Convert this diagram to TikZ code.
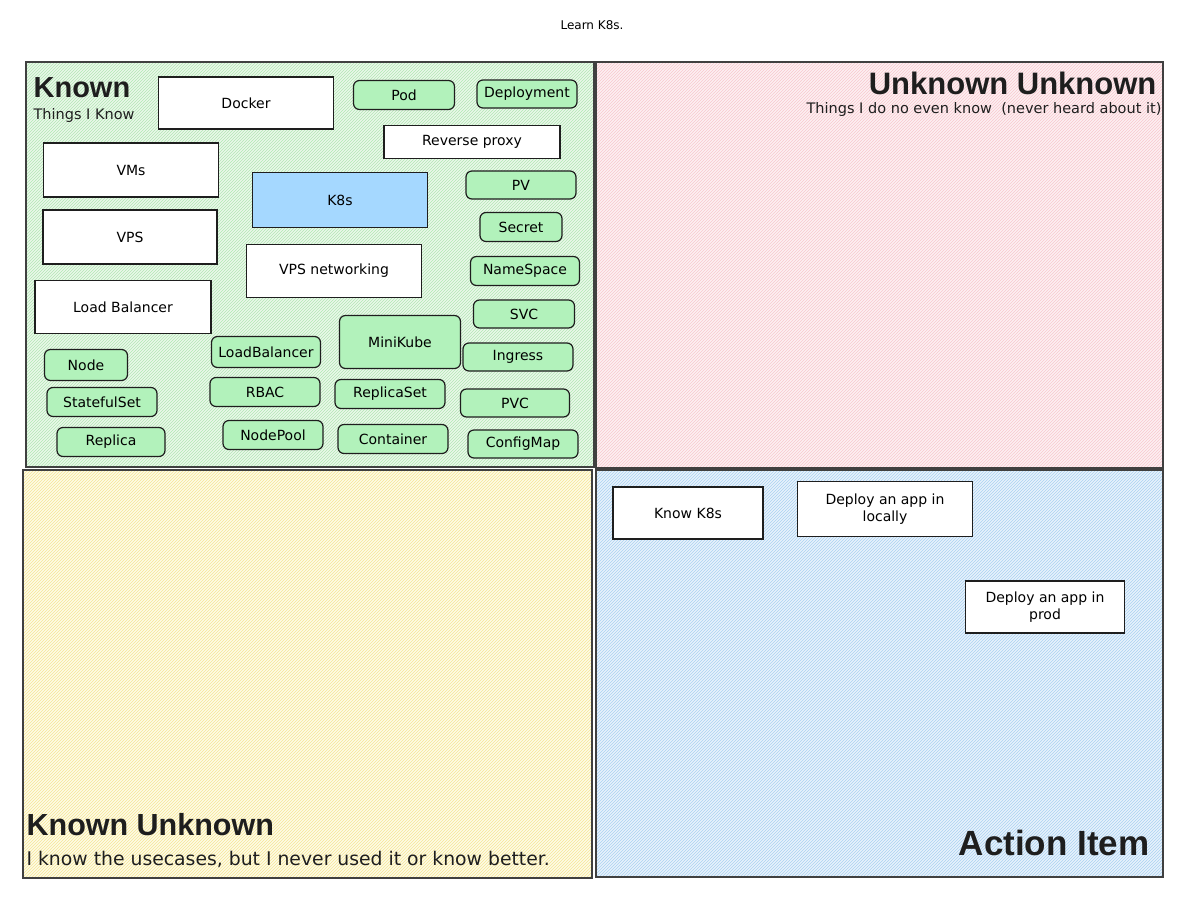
\documentclass[tikz,border=0pt]{standalone}
\usepackage{fontspec}
\setmainfont{DejaVu Sans}
\newfontfamily\headfont{Liberation Sans}
\usepackage{tikz}
\usetikzlibrary{patterns}

\definecolor{knownbg}{RGB}{234,248,234}
\definecolor{knownln}{RGB}{178,230,180}
\definecolor{unkbg}{RGB}{253,240,242}
\definecolor{unkln}{RGB}{248,200,206}
\definecolor{kunbg}{RGB}{254,251,230}
\definecolor{kunln}{RGB}{245,230,150}
\definecolor{actbg}{RGB}{232,242,252}
\definecolor{actln}{RGB}{170,210,240}
\definecolor{tagfill}{RGB}{178,242,187}
\definecolor{kfill}{RGB}{165,216,255}
\definecolor{ink}{RGB}{30,30,30}

\begin{document}
\begin{tikzpicture}[
            x=1pt, y=-1pt, line width=1.2pt,
        quad/.style={fill=#1bg, postaction={pattern=north east lines, pattern color=#1ln},
                     postaction={draw=ink!85, line width=1.1pt}},
        white node/.style={rectangle,draw=ink,fill=white,inner sep=0pt,align=center,
                           font=\fontsize{14}{17}\selectfont},
        green node/.style={rectangle,rounded corners=6pt,draw=ink,fill=tagfill,inner sep=0pt,
                           font=\fontsize{14}{17}\selectfont},
        title/.style={font=\headfont\fontsize{29}{33}\selectfont\bfseries, text=ink, inner sep=0pt},
        subtitle/.style={font=\fontsize{14.5}{17}\selectfont, text=ink, inner sep=0pt}
                                ]
    \useasboundingbox (0,0) rectangle (1192,897);

    % quadrants
    \path[quad=known] (26,62) rectangle (594,467);
    \path[quad=unk]   (596,62) rectangle (1163,468);
    \path[quad=kun]   (23,470) rectangle (592,878);
    \path[quad=act]   (596,470) rectangle (1163,877);

    \node[font=\fontsize{12}{14}\selectfont] (head) at (592,25) {Learn K8s.};

    % labels
    \node[title, anchor=west] (known) at (33,88) {Known};
    \node[subtitle, anchor=west] (knownsub) at (33,115) {Things I Know};
    \node[title, anchor=east, font=\headfont\fontsize{31}{35}\selectfont\bfseries] (unkunk) at (1157,83) {Unknown Unknown};
    \node[subtitle, anchor=east] (unkunksub) at (1162,109) {Things I do no even know\ \ (never heard about it)};
    \node[title, anchor=west, font=\headfont\fontsize{30.5}{35}\selectfont\bfseries] (knownunk) at (26,825) {Known Unknown};
    \node[subtitle, anchor=west, font=\fontsize{18.8}{22}\selectfont] (knownunksub) at (26,859) {I know the usecases, but I never used it or know better.};
    \node[title, anchor=east, font=\headfont\fontsize{35}{40}\selectfont\bfseries] (action) at (1150,843) {Action Item};

    % known: white boxes
    \node[white node, minimum width=175, minimum height=52] (docker) at (246,103) {Docker};
    \node[white node, minimum width=175, minimum height=54] (vms) at (131,170) {VMs};
    \node[white node, minimum width=174, minimum height=54] (vps) at (130,237) {VPS};
    \node[white node, minimum width=176, minimum height=53] (lb) at (123,307) {Load Balancer};
    \node[white node, fill=kfill, minimum width=175, minimum height=55] (k8s) at (340,200) {K8s};
    \node[white node, minimum width=175, minimum height=53] (vpsnet) at (334,271) {VPS networking};
    \node[white node, minimum width=176, minimum height=33] (proxy) at (472,142) {Reverse proxy};

    % known: green tags
    \node[green node, minimum width=101, minimum height=29] (pod) at (404,95) {Pod};
    \node[green node, minimum width=100, minimum height=28] (deploy) at (527,94) {Deployment};
    \node[green node, minimum width=110, minimum height=28] (pv) at (521,185) {PV};
    \node[green node, minimum width=82, minimum height=29] (secret) at (521,227) {Secret};
    \node[green node, minimum width=109, minimum height=29] (ns) at (525,271) {NameSpace};
    \node[green node, minimum width=101, minimum height=28] (svc) at (524,314) {SVC};
    \node[green node, minimum width=110, minimum height=28] (ingress) at (518,357) {Ingress};
    \node[green node, minimum width=109, minimum height=28] (pvc) at (515,403) {PVC};
    \node[green node, minimum width=110, minimum height=28] (cm) at (523,444) {ConfigMap};
    \node[green node, minimum width=121, minimum height=53] (minikube) at (400,342) {MiniKube};
    \node[green node, minimum width=109, minimum height=31] (lbk) at (266,352) {LoadBalancer};
    \node[green node, minimum width=110, minimum height=29] (rbac) at (265,392) {RBAC};
    \node[green node, minimum width=110, minimum height=29] (rs) at (390,394) {ReplicaSet};
    \node[green node, minimum width=100, minimum height=29] (np) at (273,435) {NodePool};
    \node[green node, minimum width=110, minimum height=29] (ctr) at (393,439) {Container};
    \node[green node, minimum width=83, minimum height=31] (node) at (86,365) {Node};
    \node[green node, minimum width=110, minimum height=29] (sts) at (102,402) {StatefulSet};
    \node[green node, minimum width=108, minimum height=29] (replica) at (111,442) {Replica};

    % action items
    \node[white node, minimum width=150, minimum height=52] (know) at (688,513) {Know K8s};
    \node[white node, minimum width=175, minimum height=55] (local) at (885,509) {Deploy an app in\\locally};
    \node[white node, minimum width=159, minimum height=52] (prod) at (1045,607) {Deploy an app in\\prod};
\end{tikzpicture}
\end{document}
